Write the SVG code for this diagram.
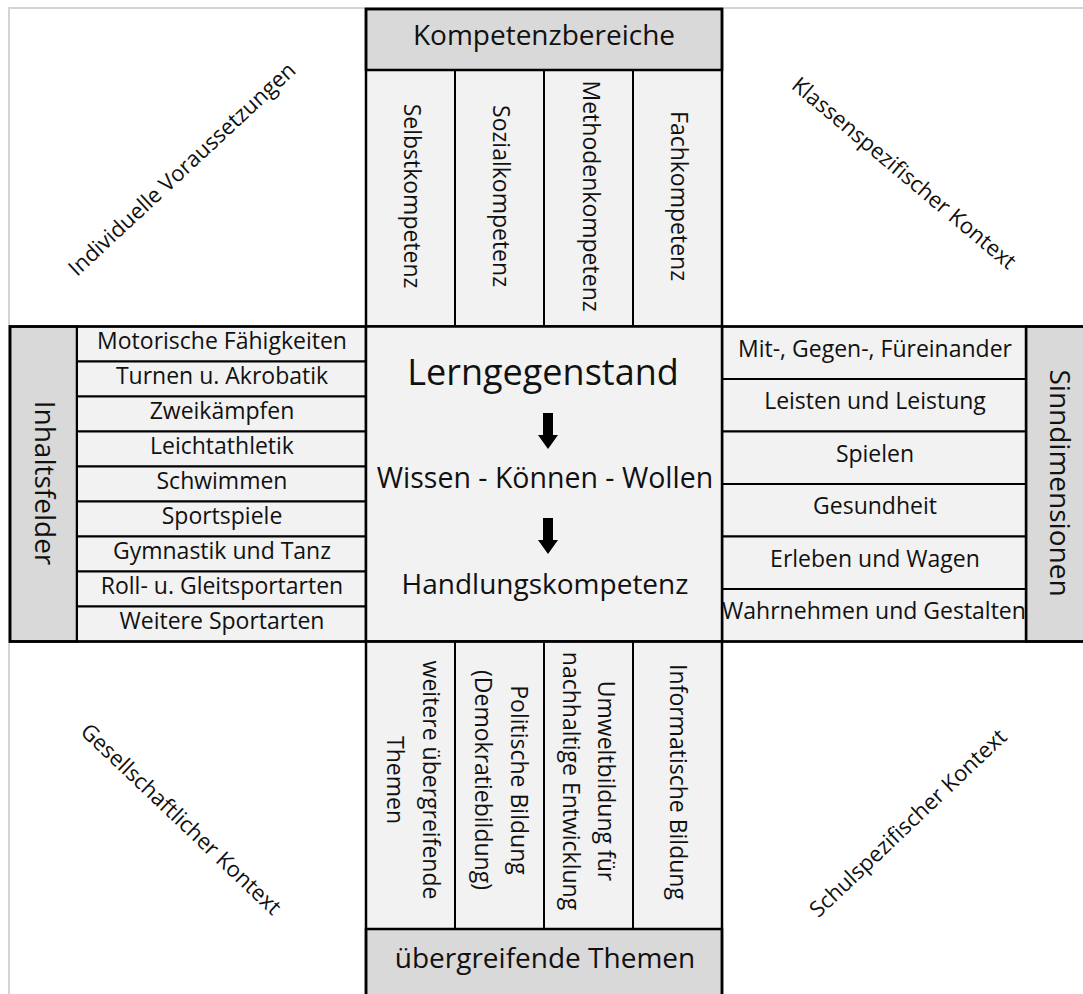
<svg xmlns="http://www.w3.org/2000/svg" width="1083" height="994" viewBox="0 0 1083 994">
<style>
  text { font-family: "Open Sans", "Liberation Sans", sans-serif; fill: #111; }
  .hd { fill: #d9d9d9; stroke: #000; stroke-width: 2.5; }
  .cell { fill: #f2f2f2; stroke: #000; stroke-width: 2; }
  .box { fill: #f2f2f2; stroke: #000; stroke-width: 2.5; }
  .it { font-size: 23px; text-anchor: middle; }
  .vt { font-size: 23px; text-anchor: middle; dominant-baseline: central; }
  .big { font-size: 28px; text-anchor: middle; }
  .cor { font-size: 22px; text-anchor: middle; dominant-baseline: central; }
  .arrow { fill: #000; }
</style>
<rect x="0" y="0" width="1083" height="994" fill="#ffffff"/>
<rect x="9" y="8" width="1100" height="1010" fill="none" stroke="#d4d4d4" stroke-width="2"/>

<g id="individuelle-voraussetzungen"><text class="cor" transform="translate(181,168) rotate(-43)">Individuelle Voraussetzungen</text></g>
<g id="klassenspezifischer-kontext"><text class="cor" transform="translate(905,172) rotate(40)">Klassenspezifischer Kontext</text></g>
<g id="gesellschaftlicher-kontext"><text class="cor" transform="translate(182,818) rotate(43.5)">Gesellschaftlicher Kontext</text></g>
<g id="schulspezifischer-kontext"><text class="cor" transform="translate(907,822) rotate(-43.5)">Schulspezifischer Kontext</text></g>

<g id="kompetenzbereiche">
  <rect class="cell" x="366" y="70" width="89" height="256.5"/>
  <rect class="cell" x="455" y="70" width="89" height="256.5"/>
  <rect class="cell" x="544" y="70" width="89" height="256.5"/>
  <rect class="cell" x="633" y="70" width="89" height="256.5"/>
  <rect class="hd" x="366" y="9" width="356" height="61"/>
  <rect x="366" y="9" width="356" height="317.5" fill="none" stroke="#000" stroke-width="2.5"/>
  <text class="big" x="544" y="45">Kompetenzbereiche</text>
  <text class="vt" transform="translate(412.5,196) rotate(90)">Selbstkompetenz</text>
  <text class="vt" transform="translate(501.5,196) rotate(90)">Sozialkompetenz</text>
  <text class="vt" transform="translate(591.5,196) rotate(90)">Methodenkompetenz</text>
  <text class="vt" transform="translate(680,196) rotate(90)">Fachkompetenz</text>
</g>

<g id="inhaltsfelder">
  <rect class="hd" x="10" y="326.5" width="67" height="315"/>
  <rect class="cell" x="77" y="326.5" width="289" height="35"/>
  <rect class="cell" x="77" y="361.5" width="289" height="35"/>
  <rect class="cell" x="77" y="396.5" width="289" height="35"/>
  <rect class="cell" x="77" y="431.5" width="289" height="35"/>
  <rect class="cell" x="77" y="466.5" width="289" height="35"/>
  <rect class="cell" x="77" y="501.5" width="289" height="35"/>
  <rect class="cell" x="77" y="536.5" width="289" height="35"/>
  <rect class="cell" x="77" y="571.5" width="289" height="35"/>
  <rect class="cell" x="77" y="606.5" width="289" height="35"/>
  <rect x="10" y="326.5" width="356" height="315" fill="none" stroke="#000" stroke-width="2.5"/>
  <text class="vt" style="font-size:28px" transform="translate(46,483) rotate(90)">Inhaltsfelder</text>
  <text class="it" x="222" y="348.5">Motorische Fähigkeiten</text>
  <text class="it" x="222" y="383.5">Turnen u. Akrobatik</text>
  <text class="it" x="222" y="418.5">Zweikämpfen</text>
  <text class="it" x="222" y="453.5">Leichtathletik</text>
  <text class="it" x="222" y="488.5">Schwimmen</text>
  <text class="it" x="222" y="523.5">Sportspiele</text>
  <text class="it" x="222" y="558.5">Gymnastik und Tanz</text>
  <text class="it" x="222" y="593.5">Roll- u. Gleitsportarten</text>
  <text class="it" x="222" y="628.5">Weitere Sportarten</text>
</g>

<g id="sinndimensionen">
  <rect class="hd" x="1026" y="326.5" width="80" height="315"/>
  <rect class="cell" x="722" y="326.5" width="304" height="52.5"/>
  <rect class="cell" x="722" y="379" width="304" height="52.5"/>
  <rect class="cell" x="722" y="431.5" width="304" height="52.5"/>
  <rect class="cell" x="722" y="484" width="304" height="52.5"/>
  <rect class="cell" x="722" y="536.5" width="304" height="52.5"/>
  <rect class="cell" x="722" y="589" width="304" height="52.5"/>
  <text class="it" x="875" y="356.5">Mit-, Gegen-, Füreinander</text>
  <text class="it" x="875" y="409">Leisten und Leistung</text>
  <text class="it" x="875" y="461.5">Spielen</text>
  <text class="it" x="875" y="514">Gesundheit</text>
  <text class="it" x="875" y="566.5">Erleben und Wagen</text>
  <text class="it" x="874" y="619">Wahrnehmen und Gestalten</text>
  <line x1="1026" y1="326.5" x2="1026" y2="641.5" stroke="#000" stroke-width="2.5"/>
  <rect x="722" y="326.5" width="400" height="315" fill="none" stroke="#000" stroke-width="2.5"/>
  <text class="vt" style="font-size:28px" transform="translate(1061,483) rotate(90)">Sinndimensionen</text>
</g>

<g id="lerngegenstand">
  <rect class="box" x="366" y="326.5" width="356" height="315"/>
  <text x="543" y="385" style="font-size:36px;text-anchor:middle">Lerngegenstand</text>
  <text x="545" y="488" style="font-size:28.5px;text-anchor:middle">Wissen - Können - Wollen</text>
  <text x="545" y="594" style="font-size:28px;text-anchor:middle">Handlungskompetenz</text>
</g>

<g id="uebergreifende-themen">
  <rect class="cell" x="366" y="641.5" width="89" height="287.5"/>
  <rect class="cell" x="455" y="641.5" width="89" height="287.5"/>
  <rect class="cell" x="544" y="641.5" width="89" height="287.5"/>
  <rect class="cell" x="633" y="641.5" width="89" height="287.5"/>
  <rect class="hd" x="366" y="929" width="356" height="80"/>
  <rect x="366" y="641.5" width="356" height="370" fill="none" stroke="#000" stroke-width="2.5"/>
  <text class="big" x="545" y="968">übergreifende Themen</text>
  <text class="vt" transform="translate(431.5,780) rotate(90)">weitere übergreifende</text>
  <text class="vt" transform="translate(395.5,780) rotate(90)">Themen</text>
  <text class="vt" transform="translate(520,780) rotate(90)">Politische Bildung</text>
  <text class="vt" transform="translate(484,780) rotate(90)">(Demokratiebildung)</text>
  <text class="vt" transform="translate(606.5,781) rotate(90)">Umweltbildung für</text>
  <text class="vt" transform="translate(571.5,781) rotate(90)">nachhaltige Entwicklung</text>
  <text class="vt" transform="translate(679,782) rotate(90)">Informatische Bildung</text>
</g>

<g id="connectors">
  <polygon class="arrow" points="543,413 553,413 553,435 558,435 548,449 538,435 543,435"/>
  <polygon class="arrow" points="543,518 553,518 553,540 558,540 548,554 538,540 543,540"/>
</g>
</svg>
